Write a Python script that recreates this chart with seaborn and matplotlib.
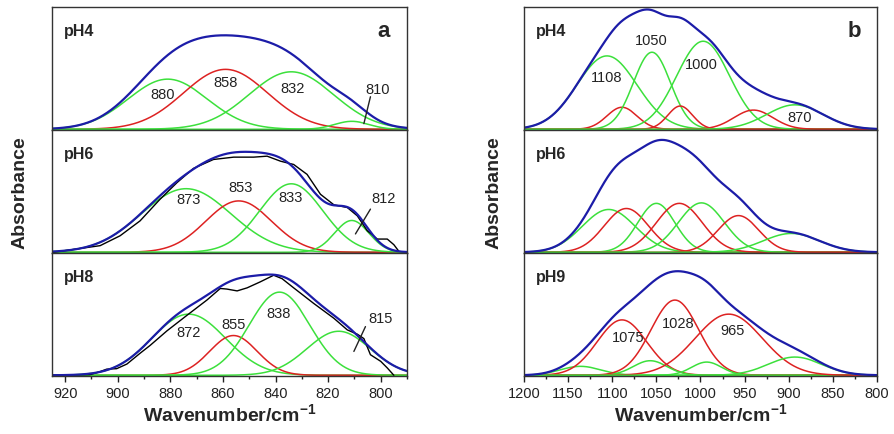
import numpy as np
import pandas as pd
import matplotlib
matplotlib.use("Agg")
import matplotlib.pyplot as plt
from matplotlib.ticker import MultipleLocator
import seaborn as sns

# ---- panel a : 925-790 cm-1 band, fitted components (centre, height, width)
a_ph4_center = [881, 859, 834, 811]
a_ph4_height = [0.41, 0.49, 0.47, 0.065]
a_ph4_sigma = [15, 16, 16, 6.5]
a_ph4_kind = ["g", "r", "g", "g"]

a_ph6_center = [874, 854, 834, 811]
a_ph6_height = [0.52, 0.42, 0.56, 0.26]
a_ph6_sigma = [17, 12.5, 12, 6.5]
a_ph6_kind = ["g", "r", "g", "g"]

a_ph8_center = [873, 856, 838.5, 816]
a_ph8_height = [0.50, 0.325, 0.68, 0.36]
a_ph8_sigma = [14, 9, 11.5, 12]
a_ph8_kind = ["g", "r", "g", "g"]

a_ph6_meas_x = [924.5, 906.7, 899.1, 891.5, 883.9, 877.5, 871.2, 863.6, 855.9, 848.3,
                843.2, 838.1, 833.1, 828.0, 822.9, 817.8, 812.7, 808.9, 805.1, 801.3,
                797.5, 795.0, 793.1]
a_ph6_meas_y = [0.0, 0.054, 0.135, 0.257, 0.434, 0.569, 0.686, 0.759, 0.778, 0.778,
                0.786, 0.745, 0.718, 0.637, 0.474, 0.388, 0.366, 0.298, 0.176, 0.108,
                0.108, 0.062, 0.008]
a_ph8_meas_x = [924.5, 910.5, 906.7, 904.2, 900.4, 896.5, 891.5, 887.7, 881.3, 873.7,
                866.1, 861.0, 858.5, 854.6, 850.8, 845.8, 840.7, 837.5, 833.1, 825.5,
                817.8, 812.7, 808.9, 806.4, 803.9, 800.0, 797.5, 795.0]
a_ph8_meas_y = [0.0, 0.005, 0.03, 0.05, 0.054, 0.092, 0.18, 0.244, 0.363, 0.49,
                0.615, 0.71, 0.705, 0.69, 0.715, 0.764, 0.818, 0.79, 0.715, 0.588,
                0.466, 0.371, 0.336, 0.30, 0.168, 0.114, 0.06, 0.0]

a_ph4_labels = ["880", "858", "832", "810"]
a_ph6_labels = ["873", "853", "833", "812"]
a_ph8_labels = ["872", "855", "838", "815"]

# ---- panel b : 1200-800 cm-1 band
b_ph4_center = [1106, 1089, 1055, 1023, 997, 940, 893]
b_ph4_height = [0.60, 0.18, 0.63, 0.19, 0.72, 0.157, 0.20]
b_ph4_sigma = [34, 17, 21, 14, 30, 22, 32]
b_ph4_kind = ["g", "r", "g", "r", "g", "r", "g"]

b_ph6_center = [1104, 1084, 1050, 1024, 999, 957, 897]
b_ph6_height = [0.35, 0.358, 0.40, 0.40, 0.404, 0.30, 0.154]
b_ph6_sigma = [30, 25, 21, 26, 26, 23, 32]
b_ph6_kind = ["g", "r", "g", "r", "g", "r", "g"]

b_ph9_center = [1136, 1089, 1057, 1029, 993, 968, 893]
b_ph9_height = [0.073, 0.453, 0.119, 0.615, 0.108, 0.50, 0.149]
b_ph9_sigma = [23, 28, 19, 27, 17, 38, 30]
b_ph9_kind = ["g", "r", "g", "r", "g", "r", "g"]

b_ph4_labels = ["1108", "1050", "1000", "870"]
b_ph9_labels = ["1075", "1028", "965"]

COLORS = {"g": "#3ce03c", "r": "#dd2222"}
BLUE = "#1c1ca8"

sns.set_style("ticks")
plt.rcParams["font.family"] = ["Liberation Sans", "DejaVu Sans"]
plt.rcParams["mathtext.fontset"] = "custom"
plt.rcParams["mathtext.rm"] = "Liberation Sans"
plt.rcParams["mathtext.bf"] = "Liberation Sans:bold"


def band(x, c, h, s):
    return h * np.exp(-(x - c) ** 2 / (2 * s ** 2))


def draw(ax, x, centers, heights, sigmas, kinds, meas=None):
    total = np.zeros_like(x)
    for c, h, s, k in zip(centers, heights, sigmas, kinds):
        y = band(x, c, h, s)
        total += y
        sns.lineplot(x=x, y=y, ax=ax, color=COLORS[k], lw=1.1)
    if meas is not None:
        sns.lineplot(x=meas[0], y=meas[1], ax=ax, color="black", lw=1.0)
    sns.lineplot(x=x, y=total, ax=ax, color=BLUE, lw=1.6)


fig = plt.figure(figsize=(8.94, 4.35), dpi=100)
row_bottom = [1 - 131 / 435, 1 - 254 / 435, 1 - 377 / 435]
row_h = 123 / 435

xa = np.linspace(925, 790, 600)
xb = np.linspace(1200, 800, 800)

panels = [
    (52 / 894, 355 / 894, xa, (925, 790), 20, 10, "a",
     [("pH4", a_ph4_center, a_ph4_height, a_ph4_sigma, a_ph4_kind, None),
      ("pH6", a_ph6_center, a_ph6_height, a_ph6_sigma, a_ph6_kind, (a_ph6_meas_x, a_ph6_meas_y)),
      ("pH8", a_ph8_center, a_ph8_height, a_ph8_sigma, a_ph8_kind, (a_ph8_meas_x, a_ph8_meas_y))]),
    (524 / 894, 353 / 894, xb, (1200, 800), 50, 25, "b",
     [("pH4", b_ph4_center, b_ph4_height, b_ph4_sigma, b_ph4_kind, None),
      ("pH6", b_ph6_center, b_ph6_height, b_ph6_sigma, b_ph6_kind, None),
      ("pH9", b_ph9_center, b_ph9_height, b_ph9_sigma, b_ph9_kind, None)]),
]

axes = {}
for left, width, x, xlim, major, minor, letter, rows in panels:
    for i, (ph, cen, hei, sig, kin, meas) in enumerate(rows):
        ax = fig.add_axes([left, row_bottom[i], width, row_h])
        draw(ax, x, cen, hei, sig, kin, meas)
        ax.set_xlim(*xlim)
        ax.set_ylim(-0.006, 1.0)
        ax.set_yticks([])
        ax.set_ylabel("")
        ax.set_xlabel("")
        for sp in ax.spines.values():
            sp.set_color("#333333")
            sp.set_linewidth(1.0)
        ax.xaxis.set_major_locator(MultipleLocator(major))
        ax.xaxis.set_minor_locator(MultipleLocator(minor))
        if i < 2:
            ax.tick_params(axis="x", which="both", bottom=False, labelbottom=False)
        else:
            ax.tick_params(axis="x", which="major", length=4, width=1, labelsize=10.5,
                           colors="#222222", pad=3)
            ax.tick_params(axis="x", which="minor", length=2.5, width=1, colors="#222222")
            ax.set_xlabel(r"Wavenumber/cm$^{\mathbf{-1}}$", fontsize=14, fontweight="bold",
                          labelpad=2)
        ax.text(0.035, 0.81, ph, transform=ax.transAxes, fontsize=11.5,
                fontweight="bold", va="center", ha="left")
        if i == 0:
            ax.text(0.935, 0.81, letter, transform=ax.transAxes, fontsize=16,
                    fontweight="bold", va="center", ha="center")
        axes[(letter, i)] = ax

# peak labels
lab_kw = dict(fontsize=10.5, ha="center", va="center", color="#222222")
for txt, (px, py) in zip(a_ph4_labels, [(883, 0.29), (859, 0.39), (833.7, 0.34), (801.3, 0.33)]):
    axes[("a", 0)].text(px, py, txt, **lab_kw)
for txt, (px, py) in zip(a_ph6_labels, [(873, 0.434), (853.4, 0.53), (834.3, 0.45), (798.8, 0.44)]):
    axes[("a", 1)].text(px, py, txt, **lab_kw)
for txt, (px, py) in zip(a_ph8_labels, [(873, 0.352), (855.9, 0.417), (838.8, 0.506), (800, 0.47)]):
    axes[("a", 2)].text(px, py, txt, **lab_kw)
for txt, (px, py) in zip(b_ph4_labels, [(1106.3, 0.428), (1055.3, 0.73), (998.6, 0.537), (887.3, 0.103)]):
    axes[("b", 0)].text(px, py, txt, **lab_kw)
for txt, (px, py) in zip(b_ph9_labels, [(1081.8, 0.309), (1025.2, 0.43), (963.5, 0.37)]):
    axes[("b", 2)].text(px, py, txt, **lab_kw)

# leader lines to the small shoulders
axes[("a", 0)].plot([803.9, 806.4], [0.266, 0.046], color="#222222", lw=1.0)
axes[("a", 1)].plot([803.9, 809.6], [0.353, 0.15], color="#222222", lw=1.0)
axes[("a", 2)].plot([805.8, 810.2], [0.398, 0.195], color="#222222", lw=1.0)

fig.text(20 / 894, 1 - 193 / 435, "Absorbance", rotation=90, fontsize=14,
         fontweight="bold", ha="center", va="center")
fig.text(494 / 894, 1 - 193 / 435, "Absorbance", rotation=90, fontsize=14,
         fontweight="bold", ha="center", va="center")

fig.savefig("out.png", dpi=100)
plt.close(fig)
